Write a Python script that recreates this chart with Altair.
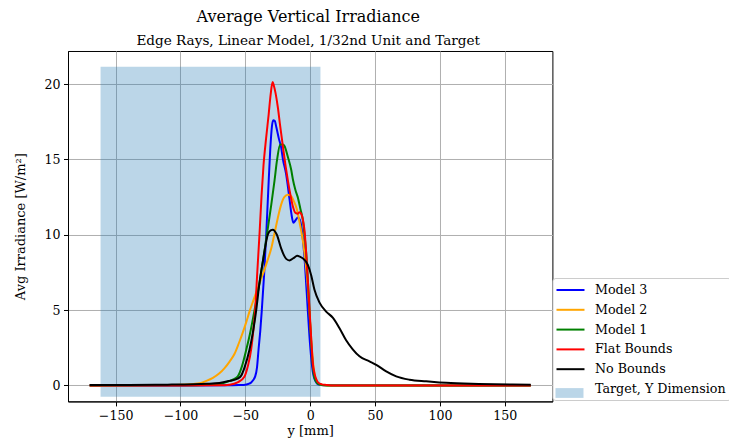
import altair as alt
import pandas as pd

# ---------------- data ----------------
series_names = ["Model 3", "Model 2", "Model 1", "Flat Bounds", "No Bounds"]
target_name = "Target, Y Dimension"
series_colors = ["#0000ff", "#ffa500", "#008000", "#ff0000", "#000000"]
target_color = "#1f77b4"

m3_x = [-170, -100, -65, -55, -50, -47, -45.5, -42.4, -41, -39.8, -38.5, -37.3, -35.5, -33.9,
        -32.3, -30.8, -29.5, -28.5, -27.3, -26, -24.2, -22.4, -21, -18.5, -16, -14.5, -13,
        -11, -9.6, -8, -6, -4, -2, 0, 2, 4, 6, 10, 170]
m3_y = [0, 0, 0.01, 0.03, 0.05, 0.12, 0.2, 0.6, 1.2, 2.4, 3.6, 5.0, 7.4, 10.0,
        13.0, 15.65, 17.2, 17.6, 17.55, 17.1, 16.4, 15.8, 15.0, 14.0, 12.4, 11.4, 10.8,
        11.0, 11.15, 11.0, 10.0, 8.0, 5.2, 2.6, 0.9, 0.3, 0.08, 0.01, 0]

m2_x = [-170, -120, -100, -90, -85, -80, -75, -70, -66, -62, -58.3, -55, -52, -49.3,
        -46.8, -44, -41.5, -39, -36, -32.7, -30, -27.5, -25, -22.4, -20, -17.3, -15,
        -13, -10.3, -7.7, -6, -4.4, -2.3, -0.5, 1, 2.5, 4, 6, 9, 13, 170]
m2_y = [0, 0.02, 0.05, 0.1, 0.15, 0.3, 0.5, 0.8, 1.15, 1.6, 2.1, 2.8, 3.5, 4.2,
        4.9, 5.6, 6.2, 6.8, 7.5, 8.35, 9.1, 10.1, 11.1, 12.0, 12.5, 12.65, 12.6,
        12.3, 11.7, 10.6, 9.8, 8.8, 7.0, 4.8, 2.8, 1.3, 0.5, 0.15, 0.03, 0, 0]

m1_x = [-170, -100, -80, -70, -62, -58, -55.8, -52.5, -49.2, -46, -42.9, -39.1, -36, -33.4,
        -30, -27.5, -25.5, -23.1, -21, -19.8, -17.3, -14.6, -13.4, -11.5, -9.6, -7.5,
        -5.7, -4.4, -3.1, -1.8, -0.5, 1, 2, 3, 4.5, 6, 9, 13, 170]
m1_y = [0, 0.01, 0.03, 0.1, 0.3, 0.45, 0.6, 1.3, 2.4, 3.6, 5.0, 6.8, 8.5, 10.0,
        12.0, 13.6, 15.0, 16.0, 16.0, 15.9, 15.2, 14.3, 13.7, 13.0, 12.5, 11.7,
        11.0, 10.0, 8.8, 7.0, 4.8, 2.5, 1.3, 0.6, 0.25, 0.1, 0.02, 0, 0]

flat_x = [-170, -100, -70, -62, -56, -50.6, -48, -45.5, -44, -42.4, -40.8, -39.1, -37.5,
          -36, -34, -32, -30.5, -29, -28, -26.7, -25, -23.1, -21.1, -18.5, -16, -13.4,
          -11.3, -9.5, -8.2, -6.5, -5.2, -4.4, -3.1, -1.8, -0.5, 1, 2, 3.3, 5, 6, 9, 12.3,
          16, 170]
flat_y = [0, 0, 0.01, 0.05, 0.2, 0.6, 1.3, 2.4, 3.5, 5.0, 7.5, 10.0, 12.6,
          14.6, 16.4, 18.0, 19.3, 20.15, 19.9, 19.4, 18.5, 17.2, 15.9, 14.3, 13.0, 11.9,
          11.45, 11.4, 11.5, 11.3, 10.8, 10.3, 8.8, 7.0, 5.0, 2.8, 1.5, 0.8, 0.35, 0.2, 0.07,
          0.03, 0, 0]

nb_x = [-170, -140, -110, -90, -80, -70, -62.2, -56, -53.2, -50.6, -46.8, -44, -41.6,
        -39.1, -36, -32.7, -30.5, -28.8, -25.7, -22.4, -20, -18.5, -16, -12.9, -10, -8,
        -5.2, -1.8, 0.8, 3.3, 7.2, 12.3, 17.4, 22.6, 27.7, 32.8, 38, 45.7, 50.9, 58.6,
        66.3, 76.5, 89.4, 99.6, 104.8, 130, 156, 170]
nb_y = [0.02, 0.03, 0.05, 0.08, 0.11, 0.16, 0.3, 0.45, 0.65, 1.2, 2.37, 3.6, 5.0,
        6.8, 8.5, 10.0, 10.3, 10.34, 10.0, 9.1, 8.6, 8.4, 8.3, 8.45, 8.6, 8.55,
        8.4, 8.0, 7.3, 6.35, 5.5, 4.9, 4.5, 3.8, 3.0, 2.4, 1.93, 1.6, 1.37, 0.93,
        0.6, 0.38, 0.27, 0.2, 0.17, 0.1, 0.06, 0.05]

target_x0 = [-161.6]
target_x1 = [7.9]
target_y0 = [-0.75]
target_y1 = [21.16]

# ---------------- tables ----------------
series_x = [m3_x, m2_x, m1_x, flat_x, nb_x]
series_y = [m3_y, m2_y, m1_y, flat_y, nb_y]
rows = []
for name, xs, ys in zip(series_names, series_x, series_y):
    for i, (xv, yv) in enumerate(zip(xs, ys)):
        rows.append({"series": name, "x": xv, "y": yv, "i": i})
lines_df = pd.DataFrame(rows)
target_df = pd.DataFrame({"series": [target_name], "x0": target_x0, "x1": target_x1,
                          "y0": target_y0, "y1": target_y1})

FONT = "DejaVu Serif"
LEG_X = 484.5
LEG_Y = 227.0
ROW_PAD = 4.8
SYM = 196
ROW_H = 16
LEG_FS = 12.7

# line legend: six rows (last row's stroke is invisible, patch drawn by 2nd legend)
line_scale = alt.Scale(domain=series_names + [target_name],
                       range=series_colors + ["transparent"])
line_legend = alt.Legend(
    title=None, orient="none", legendX=LEG_X, legendY=LEG_Y,
    symbolType="M-2,0H2", symbolSize=SYM, symbolStrokeWidth=2, symbolOpacity=1,
    labelFont=FONT, labelFontSize=LEG_FS, labelColor="black",
    strokeColor="#cccccc", fillColor="white", cornerRadius=3,
    padding=4, rowPadding=ROW_PAD, labelOffset=16.5, symbolOffset=6, zindex=1,
)
fill_scale = alt.Scale(domain=[target_name], range=[target_color])
fill_legend = alt.Legend(
    title=None, orient="none", legendX=LEG_X, legendY=LEG_Y + 5 * (ROW_H + ROW_PAD),
    symbolType="M-2,-0.7H2V0.7H-2Z", symbolSize=SYM, symbolStrokeWidth=0,
    symbolOpacity=0.3, labelFont=FONT, labelFontSize=LEG_FS, labelExpr="''",
    padding=4, labelOffset=16.5, symbolOffset=6, zindex=2,
)

x_scale = alt.Scale(domain=[-186.7, 186.7], nice=False, zero=False)
y_scale = alt.Scale(domain=[-1.06, 22.2], nice=False, zero=False)
x_axis = alt.Axis(values=[-150, -100, -50, 0, 50, 100, 150], title="y [mm]")
y_axis = alt.Axis(values=[0, 5, 10, 15, 20], title="Avg Irradiance [W/m²]")

rect = alt.Chart(target_df).mark_rect(opacity=0.3).encode(
    x=alt.X("x0:Q", scale=x_scale, axis=x_axis),
    x2="x1:Q",
    y=alt.Y("y0:Q", scale=y_scale, axis=y_axis),
    y2="y1:Q",
    fill=alt.Fill("series:N", scale=fill_scale, legend=fill_legend),
)

lines = alt.Chart(lines_df).mark_line(strokeWidth=2, interpolate="monotone", clip=True).encode(
    x=alt.X("x:Q", scale=x_scale, axis=x_axis),
    y=alt.Y("y:Q", scale=y_scale, axis=y_axis),
    color=alt.Color("series:N", scale=line_scale, legend=line_legend),
    order="i:Q",
)

chart = alt.layer(rect, lines).properties(
    width=484.4, height=350.4,
    title=alt.TitleParams(
        text="Average Vertical Irradiance",
        subtitle="Edge Rays, Linear Model, 1/32nd Unit and Target",
        anchor="middle", frame="group", font=FONT, fontSize=16, fontWeight="normal",
        color="black", subtitleFont=FONT, subtitleFontSize=13.6, subtitleColor="black",
        subtitlePadding=8.5, offset=3.5, dx=-2,
    ),
    padding={"left": 60, "top": 43, "right": 176.5, "bottom": 37.5},
    autosize=alt.AutoSizeParams(type="none"),
).configure_view(
    stroke="black", strokeWidth=1
).configure_axis(
    labelFont=FONT, labelFontSize=12.6, labelColor="black",
    titleFont=FONT, titleFontSize=13, titleColor="black", titleFontWeight="normal",
    domainColor="black", domainWidth=1, tickColor="black", tickSize=4.5, tickWidth=1,
    gridColor="#b0b0b0", gridWidth=1, labelPadding=3.5,
).configure_axisX(
    titlePadding=2.5
).configure_axisY(
    titlePadding=16
)

chart.save("out.html", embed_options={"renderer": "svg", "actions": False})
